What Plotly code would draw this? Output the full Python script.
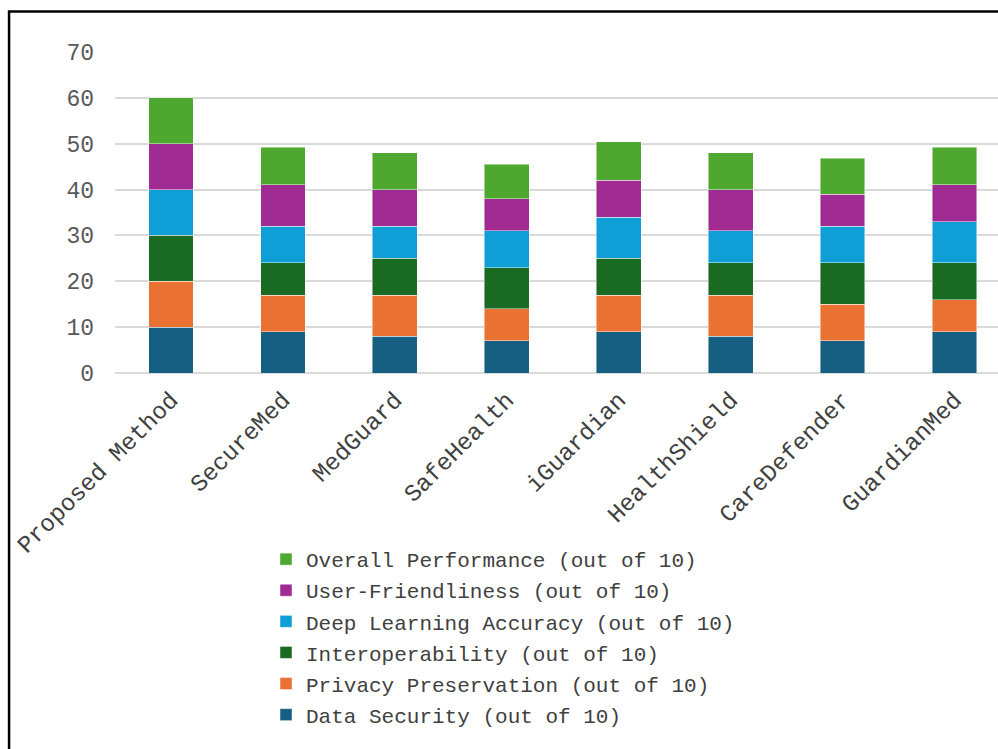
import plotly.graph_objects as go

# Systems compared, and their scores per criterion (each out of 10)
systems = ["Proposed Method", "SecureMed", "MedGuard", "SafeHealth",
           "iGuardian", "HealthShield", "CareDefender", "GuardianMed"]

data_security = [10, 9, 8, 7, 9, 8, 7, 9]
privacy_preservation = [10, 8, 9, 7, 8, 9, 8, 7]
interoperability = [10, 7, 8, 9, 8, 7, 9, 8]
deep_learning_accuracy = [10, 8, 7, 8, 9, 7, 8, 9]
user_friendliness = [10, 9, 8, 7, 8, 9, 7, 8]
overall_performance = [10, 8.2, 8, 7.5, 8.4, 8, 7.8, 8.2]

series = [
    ("Data Security (out of 10)", data_security, "#156082"),
    ("Privacy Preservation (out of 10)", privacy_preservation, "#E97132"),
    ("Interoperability (out of 10)", interoperability, "#196B24"),
    ("Deep Learning Accuracy (out of 10)", deep_learning_accuracy, "#0F9ED5"),
    ("User-Friendliness (out of 10)", user_friendliness, "#A02B93"),
    ("Overall Performance (out of 10)", overall_performance, "#4EA72E"),
]

y_ticks = [0, 10, 20, 30, 40, 50, 60, 70]

FONT = "Liberation Mono, Courier New, monospace"
W, H = 998, 749
L, T = 114.5, 51.7
B = H - 373.3
plot_w = W - L
plot_h = H - T - B

fig = go.Figure()
n = len(series)
for i, (name, vals, color) in enumerate(series):
    fig.add_trace(go.Bar(
        x=systems, y=vals, name=name,
        legendgroup=f"g{i}", legendrank=n - i,
        marker=dict(color=color, line=dict(color="rgba(255,255,255,0.6)", width=0.75)),
    ))


def px_x(px):
    return (px - L) / plot_w


def px_y(py):
    return (H - B - py) / plot_h


# outer frame line along the top and left edges
fig.add_shape(type="path", xref="paper", yref="paper",
              path=f"M {px_x(8.5)} {px_y(H + 20)} L {px_x(8.5)} {px_y(11)} L {px_x(W + 20)} {px_y(11)}",
              line=dict(color="#000000", width=2.5), layer="above")

fig.update_layout(
    width=W, height=H,
    margin=dict(l=L, r=0, t=T, b=B, pad=0, autoexpand=False),
    paper_bgcolor="white", plot_bgcolor="white",
    barmode="stack", bargap=0.6,
    font=dict(family=FONT, color="#595959"),
    showlegend=True,
    legend=dict(
        xref="container", yref="container",
        x=266 / W, y=1 - 539 / H, xanchor="left", yanchor="top",
        traceorder="grouped", tracegroupgap=0.8,
        font=dict(family=FONT, size=21, color="#404040"),
        bgcolor="rgba(0,0,0,0)",
    ),
    xaxis=dict(
        range=[-0.5, -0.5 + plot_w / 112],
        tickangle=-45, automargin=False,
        tickfont=dict(family=FONT, size=24, color="#404040"),
        showgrid=False, showline=False, zeroline=False,
        ticks="", fixedrange=True, ticklabelstandoff=7,
    ),
    yaxis=dict(
        range=[0, 70], automargin=False,
        tickvals=y_ticks,
        tickfont=dict(family=FONT, size=23, color="#595959"),
        showgrid=True, gridcolor="#D9D9D9", gridwidth=1.5,
        zeroline=True, zerolinecolor="#D9D9D9", zerolinewidth=1.5,
        showline=False, ticks="", ticklabelstandoff=20,
    ),
)

fig.write_html("out.html")
